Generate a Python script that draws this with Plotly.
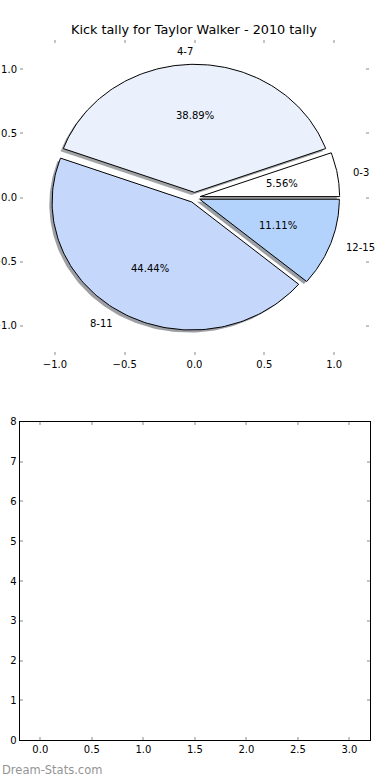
import numpy as np
import plotly.graph_objects as go

# ---- data ----
title = "Kick tally for Taylor Walker - 2010 tally"
categories = ["0-3", "4-7", "8-11", "12-15"]
counts = [1, 7, 8, 2]
colors = ["#ffffff", "#eaf1fd", "#c5d8fc", "#b3d3fd"]
explode = [0.04, 0.04, 0.04, 0.04]
pie_ticks = [-1.0, -0.5, 0.0, 0.5, 1.0]
bottom_xticks = [0.0, 0.5, 1.0, 1.5, 2.0, 2.5, 3.0]
bottom_yticks = [0, 1, 2, 3, 4, 5, 6, 7, 8]

W, H = 390, 780
FONT = "DejaVu Sans"
TICKC = "#c4c4c4"

fig = go.Figure()

total = float(sum(counts))
fracs = [c / total for c in counts]

# wedge geometry (matplotlib-like pie: start at 0 deg, counter-clockwise)
wedges = []
start = 0.0
for f, e in zip(fracs, explode):
    t1, t2 = 360.0 * start, 360.0 * (start + f)
    mid = np.deg2rad((t1 + t2) / 2.0)
    cx, cy = e * np.cos(mid), e * np.sin(mid)
    th = np.deg2rad(np.linspace(t1, t2, 120))
    xs = np.concatenate([[cx], cx + np.cos(th), [cx]])
    ys = np.concatenate([[cy], cy + np.sin(th), [cy]])
    wedges.append((xs, ys, mid, cx, cy))
    start += f

def hex_rgb(h):
    h = h.lstrip("#")
    return [int(h[i:i + 2], 16) for i in (0, 2, 4)]

# shadows first
for (xs, ys, mid, cx, cy), col in zip(wedges, colors):
    r, g, b = [int(0.3 * v) for v in hex_rgb(col)]
    fig.add_trace(go.Scatter(x=xs - 0.02, y=ys - 0.02, mode="lines", fill="toself",
                             fillcolor=f"rgba({r},{g},{b},0.5)", line=dict(width=0),
                             hoverinfo="skip", showlegend=False, xaxis="x", yaxis="y"))
# wedges
for (xs, ys, mid, cx, cy), col in zip(wedges, colors):
    fig.add_trace(go.Scatter(x=xs, y=ys, mode="lines", fill="toself", fillcolor=col,
                             line=dict(color="black", width=1), hoverinfo="skip",
                             showlegend=False, xaxis="x", yaxis="y"))

annotations = []
for (xs, ys, mid, cx, cy), lab, f, e in zip(wedges, categories, fracs, explode):
    lx = (1.1 + e) * np.cos(mid)
    ly = (1.1 + e) * np.sin(mid)
    annotations.append(dict(x=lx, y=ly, xref="x", yref="y", text=lab, showarrow=False,
                            xanchor="left" if lx > 1e-9 else "right", yanchor="middle",
                            font=dict(family=FONT, size=10, color="black")))
    px = (0.6 + e) * np.cos(mid)
    py = (0.6 + e) * np.sin(mid)
    annotations.append(dict(x=px, y=py, xref="x", yref="y", text=f"{100 * f:.2f}%",
                            showarrow=False, xanchor="center", yanchor="middle",
                            font=dict(family=FONT, size=10, color="black")))

annotations.append(dict(x=194 / W, y=1 - 30 / H, xref="paper", yref="paper", text=title,
                        showarrow=False, xanchor="center", yanchor="middle",
                        font=dict(family=FONT, size=12.8, color="black")))
annotations.append(dict(x=0, y=1 - 770 / H, xref="paper", yref="paper", text="Dream-Stats.com",
                        showarrow=False, xanchor="left", yanchor="middle",
                        font=dict(family=FONT, size=11.5, color="#949494")))

# empty trace for the bottom axes
fig.add_trace(go.Scatter(x=[], y=[], mode="markers", xaxis="x2", yaxis="y2", showlegend=False))

tickfont = dict(family=FONT, size=10, color="black")
common = dict(showgrid=False, zeroline=False, ticks="inside", ticklen=3, tickwidth=1.5,
              tickcolor=TICKC, tickfont=tickfont, mirror="ticks", showline=True,
              automargin=False, fixedrange=True)

fig.update_layout(
    width=W, height=H, autosize=False,
    margin=dict(l=0, r=0, t=0, b=0),
    paper_bgcolor="white", plot_bgcolor="white",
    showlegend=False,
    annotations=annotations,
    xaxis=dict(domain=[20 / W, 369 / W], range=[-1.25, 1.25], tickvals=pie_ticks,
               tickformat=".1f", linecolor="rgba(0,0,0,0)", anchor="y", **common),
    yaxis=dict(domain=[1 - 355 / H, 1 - 40 / H], range=[-1.23, 1.23], tickvals=pie_ticks,
               tickformat=".1f", linecolor="rgba(0,0,0,0)", anchor="x", **common),
    xaxis2=dict(domain=[19.7 / W, 370 / W], range=[-0.2, 3.2], tickvals=bottom_xticks,
                tickformat=".1f", linecolor="black", linewidth=1.2, anchor="y2", **common),
    yaxis2=dict(domain=[1 - 740.3 / H, 1 - 421.7 / H], range=[0, 8], tickvals=bottom_yticks,
                linecolor="black", linewidth=1.2, anchor="x2", **common),
)

fig.write_html("out.html", config={"displayModeBar": False},
               post_script="document.body.style.margin='0';document.body.style.overflow='hidden';")
